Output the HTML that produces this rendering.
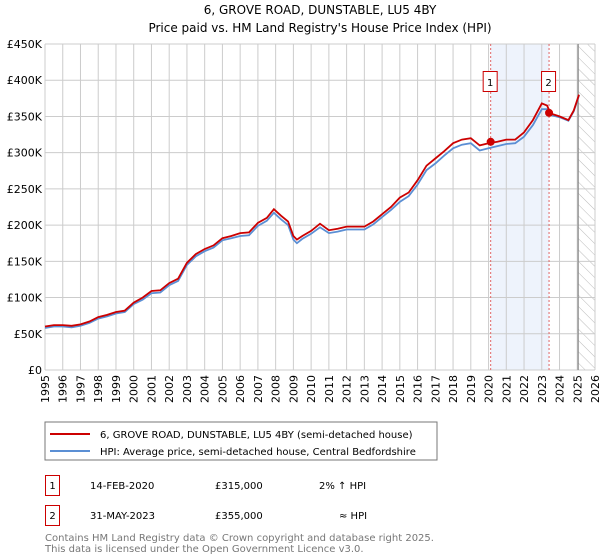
<!DOCTYPE html>
<html><head><meta charset="utf-8">
<style>
body{margin:0;background:#fff;font-family:"DejaVu Sans","Liberation Sans",sans-serif;}
#wrap{position:relative;width:600px;height:560px;overflow:hidden;}
svg text{font-family:"DejaVu Sans","Liberation Sans",sans-serif;}
</style></head>
<body>
<div id="wrap">
<svg id="chart" width="600" height="560">
<text x="320" y="14" text-anchor="middle" font-size="12" fill="#000">6, GROVE ROAD, DUNSTABLE, LU5 4BY</text>
<text x="320" y="32" text-anchor="middle" font-size="12" fill="#000">Price paid vs. HM Land Registry's House Price Index (HPI)</text>
<g id="grid"></g><g id="marks"></g><g id="axes"></g>
<rect x="45" y="422" width="392" height="38" fill="#fff" stroke="#777" stroke-width="1"/>
<line x1="50" y1="434" x2="90" y2="434" stroke="#cc0000" stroke-width="2"/>
<text x="100" y="438" font-size="10">6, GROVE ROAD, DUNSTABLE, LU5 4BY (semi-detached house)</text>
<line x1="50" y1="451" x2="90" y2="451" stroke="#5b8fd4" stroke-width="2"/>
<text x="100" y="455" font-size="10">HPI: Average price, semi-detached house, Central Bedfordshire</text>
<rect x="45.5" y="475.5" width="14" height="20" fill="#fff" stroke="#cc0000"/>
<text x="52.5" y="489" font-size="10" text-anchor="middle">1</text>
<text x="90" y="489" font-size="10">14-FEB-2020</text>
<text x="215" y="489" font-size="10">£315,000</text>
<text x="319" y="489" font-size="10">2% ↑ HPI</text>
<rect x="45.5" y="505.5" width="14" height="20" fill="#fff" stroke="#cc0000"/>
<text x="52.5" y="519" font-size="10" text-anchor="middle">2</text>
<text x="90" y="519" font-size="10">31-MAY-2023</text>
<text x="215" y="519" font-size="10">£355,000</text>
<text x="339" y="519" font-size="10">≈ HPI</text>
<text x="45" y="541" font-size="10" fill="#777">Contains HM Land Registry data © Crown copyright and database right 2025.</text>
<text x="45" y="552" font-size="10" fill="#777">This data is licensed under the Open Government Licence v3.0.</text>
</svg>
</div>
<script>
const years=[1995,1996,1997,1998,1999,2000,2001,2002,2003,2004,2005,2006,2007,2008,2009,2010,2011,2012,2013,2014,2015,2016,2017,2018,2019,2020,2021,2022,2023,2024,2025,2026];
const yTicks=[0,50,100,150,200,250,300,350,400,450];
const tTimes=[1995,1995.5,1996,1996.5,1997,1997.5,1998,1998.5,1999,1999.5,2000,2000.5,2001,2001.5,2002,2002.5,2003,2003.5,2004,2004.5,2005,2005.5,2006,2006.5,2007,2007.5,2007.9,2008.3,2008.7,2009,2009.2,2009.5,2010,2010.5,2011,2011.5,2012,2012.5,2013,2013.5,2014,2014.5,2015,2015.5,2016,2016.5,2017,2017.5,2018,2018.5,2019,2019.5,2020,2020.5,2021,2021.5,2022,2022.5,2023,2023.3,2023.5,2024,2024.5,2024.8,2025.1];
const redVals=[60,62,62,61,63,67,73,76,80,82,93,100,109,110,120,126,148,160,167,172,182,185,189,190,203,210,222,213,205,185,180,185,192,202,193,195,198,198,198,205,215,225,238,245,262,282,292,302,313,318,320,310,313,315,318,318,328,345,368,365,354,350,345,358,380];
const blueVals=[58,60,60,59,61,65,71,74,78,80,91,97,106,107,117,123,145,157,164,169,179,182,185,186,199,206,217,208,200,180,175,181,188,197,189,191,194,194,194,201,211,221,232,240,256,276,285,296,306,311,313,303,306,309,312,313,322,338,360,360,352,349,344,357,379];
const sales=[{t:2020.12,v:315},{t:2023.41,v:355}];
const X0=45,X1=595,Y0=370,Y1=44;
const xs=t=>X0+(t-1995)/(2026-1995)*(X1-X0);
const ys=v=>Y0-v/450*(Y0-Y1);
const NS="http://www.w3.org/2000/svg";
function mk(tag,attrs,parent){const e=document.createElementNS(NS,tag);for(const k in attrs)e.setAttribute(k,attrs[k]);parent.appendChild(e);return e;}
const grid=document.getElementById('grid'),marks=document.getElementById('marks'),axes=document.getElementById('axes');
// shaded region and hatched future
let sh=mk('rect',{x:xs(sales[0].t),y:Y1,width:xs(sales[1].t)-xs(sales[0].t),height:Y0-Y1,fill:'#eef3fc'},grid);


const defs=mk('defs',{},grid);
const pat=mk('pattern',{id:'hatch',width:8,height:8,patternUnits:'userSpaceOnUse',patternTransform:'rotate(-45)'},defs);
mk('line',{x1:0,y1:0,x2:0,y2:8,stroke:'#bbb','stroke-width':1},pat);
let hz=mk('rect',{x:xs(2025.05),y:Y1,width:X1-xs(2025.05),height:Y0-Y1,fill:'url(#hatch)'},grid);


years.forEach(y=>{
  let l=mk('line',{x1:xs(y),x2:xs(y),y1:Y1,y2:Y0,stroke:'#ccc','stroke-width':1},grid);
  
  
  let t=mk('text',{x:0,y:0,'font-size':11,'text-anchor':'end',transform:`translate(${xs(y)+4},${Y0+5}) rotate(-90)`},axes);
  t.textContent=y;
  
  
});
yTicks.forEach(v=>{
  let l=mk('line',{x1:X0,x2:X1,y1:ys(v),y2:ys(v),stroke:'#ccc','stroke-width':1},grid);
  
  
  let t=mk('text',{x:X0-3,y:ys(v)+4,'font-size':11,'text-anchor':'end'},axes);
  t.textContent=v===0?'£0':'£'+v+'K';
  
  
});
let nl=mk('line',{x1:xs(2025.05),x2:xs(2025.05),y1:Y1,y2:Y0,stroke:'#888','stroke-width':1.2},grid);


sales.forEach((s,i)=>{
  let l=mk('line',{x1:xs(s.t),x2:xs(s.t),y1:Y1,y2:Y0,stroke:'#e06666','stroke-width':1,'stroke-dasharray':'2,2'},grid);
  
  
  let b=mk('rect',{x:xs(s.t)-7.5,y:71.5,width:14,height:20,fill:'#fff',stroke:'#cc0000'},axes);
  
  
  let t=mk('text',{x:xs(s.t)-0.5,y:86,'font-size':10,'text-anchor':'middle'},axes);
  t.textContent=i+1;
  
  
});
const path=vals=>vals.map((v,i)=>(i?'L':'M')+xs(tTimes[i]).toFixed(1)+','+ys(v).toFixed(1)).join('');
let bl=mk('path',{d:path(blueVals),fill:'none',stroke:'#5b8fd4','stroke-width':1.8},marks);


let rl=mk('path',{d:path(redVals),fill:'none',stroke:'#cc0000','stroke-width':1.8},marks);


sales.forEach((s,i)=>{
  let c=mk('circle',{cx:xs(s.t),cy:ys(s.v),r:4,fill:'#cc0000'},marks);
  
  
});
</script>
</body></html>
